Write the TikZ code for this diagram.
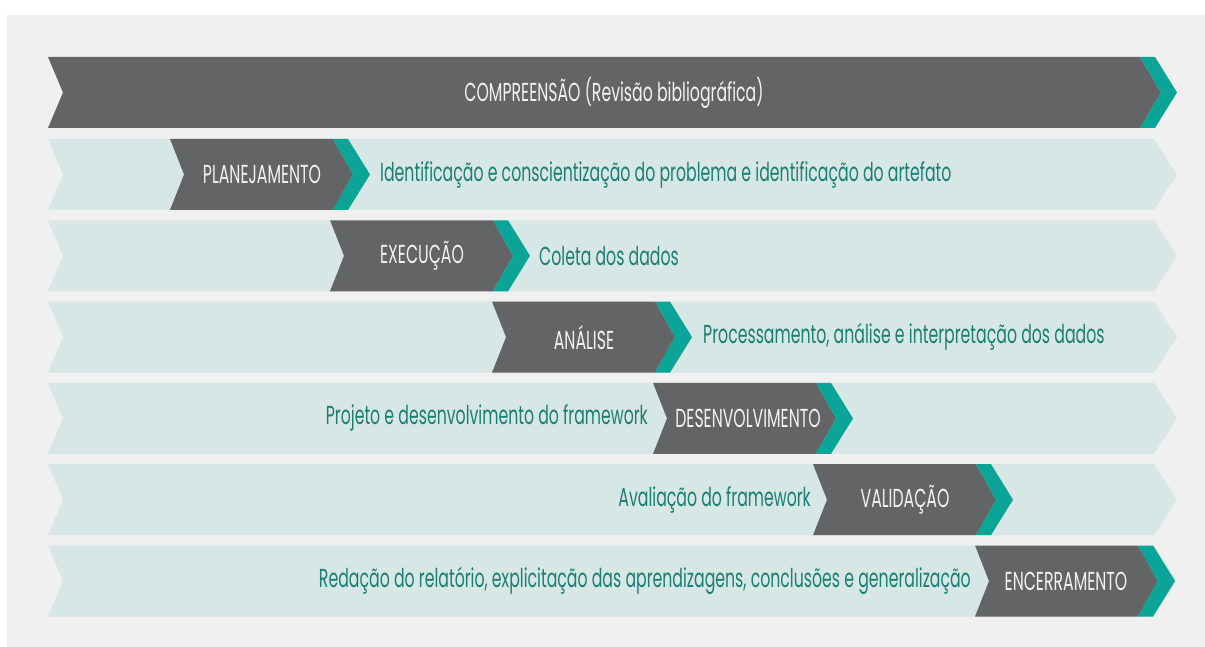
\documentclass[tikz,border=0pt]{standalone}
\usepackage{fontspec}
\setmainfont{Poppins}[FakeStretch=0.605]
\definecolor{bgc}{HTML}{F0F0F0}
\definecolor{darkg}{HTML}{636466}
\definecolor{tealc}{HTML}{0AA597}
\definecolor{lightb}{HTML}{D6E7E5}
\definecolor{tealtext}{HTML}{1B7E74}
\definecolor{whitetext}{HTML}{F2F2F2}
\newcommand\lightbar[1]{%
  \fill[lightb] (48,#1) -- (1154,#1) -- (1177,#1+35.5) -- (1154,#1+71) -- (48,#1+71) -- (63,#1+35.5) -- cycle;}
\newcommand\stagebox[2]{%
  \fill[darkg] (#1,#2) -- ++(163,0) -- ++(20,35.5) -- ++(-20,35.5) -- ++(-163,0) -- ++(14,-35.5) -- cycle;
  \fill[tealc] (#1+163,#2) -- ++(15,0) -- ++(22,35.5) -- ++(-22,35.5) -- ++(-15,0) -- ++(20,-35.5) -- cycle;}
\begin{document}
\begin{tikzpicture}[x=1pt,y=-1pt,
  stagelabel/.style={text=whitetext,font=\fontsize{26}{26}\selectfont,inner sep=0pt},
  desclabel/.style={text=tealtext,font=\fontsize{26}{26}\selectfont,inner sep=0pt}]
\useasboundingbox (0,0) rectangle (1205,647);
\fill[white] (0,0) rectangle (1205,647);
\fill[bgc] (7,15) rectangle (1205,647);
% top bar
\fill[darkg] (48,57) -- (1140,57) -- (1161,92.5) -- (1140,128) -- (48,128) -- (63,92.5) -- cycle;
\fill[tealc] (1140,57) -- (1155,57) -- (1177,92.5) -- (1155,128) -- (1140,128) -- (1161,92.5) -- cycle;
\node[stagelabel] (comp) at (614,92.5) {COMPREENSÃO (Revisão bibliográfica)};
% rows
\lightbar{139}
\lightbar{220.3}
\lightbar{301.6}
\lightbar{382.9}
\lightbar{464.2}
\lightbar{545.5}
\stagebox{170}{139}
\stagebox{330}{220.3}
\stagebox{492}{301.6}
\stagebox{653}{382.9}
\stagebox{813}{464.2}
\stagebox{975}{545.5}
\node[stagelabel] (s1) at (262,174.5) {PLANEJAMENTO};
\node[desclabel,anchor=west] (d1) at (380,174.5) {Identificação e conscientização do problema e identificação do artefato};
\node[stagelabel] (s2) at (422,255.8) {EXECUÇÃO};
\node[desclabel,anchor=west] (d2) at (539,255.8) {Coleta dos dados};
\node[stagelabel] (s3) at (584,337.1) {ANÁLISE};
\node[desclabel,anchor=west] (d3) at (703,337.1) {Processamento, análise e interpretação dos dados};
\node[stagelabel] (s4) at (748,418.4) {DESENVOLVIMENTO};
\node[desclabel,anchor=east] (d4) at (648,418.4) {Projeto e desenvolvimento do framework};
\node[stagelabel] (s5) at (905,499.7) {VALIDAÇÃO};
\node[desclabel,anchor=east] (d5) at (811,499.7) {Avaliação do framework};
\node[stagelabel] (s6) at (1066,581) {ENCERRAMENTO};
\node[desclabel,anchor=east] (d6) at (971,581) {Redação do relatório, explicitação das aprendizagens, conclusões e generalização};
\end{tikzpicture}
\end{document}
